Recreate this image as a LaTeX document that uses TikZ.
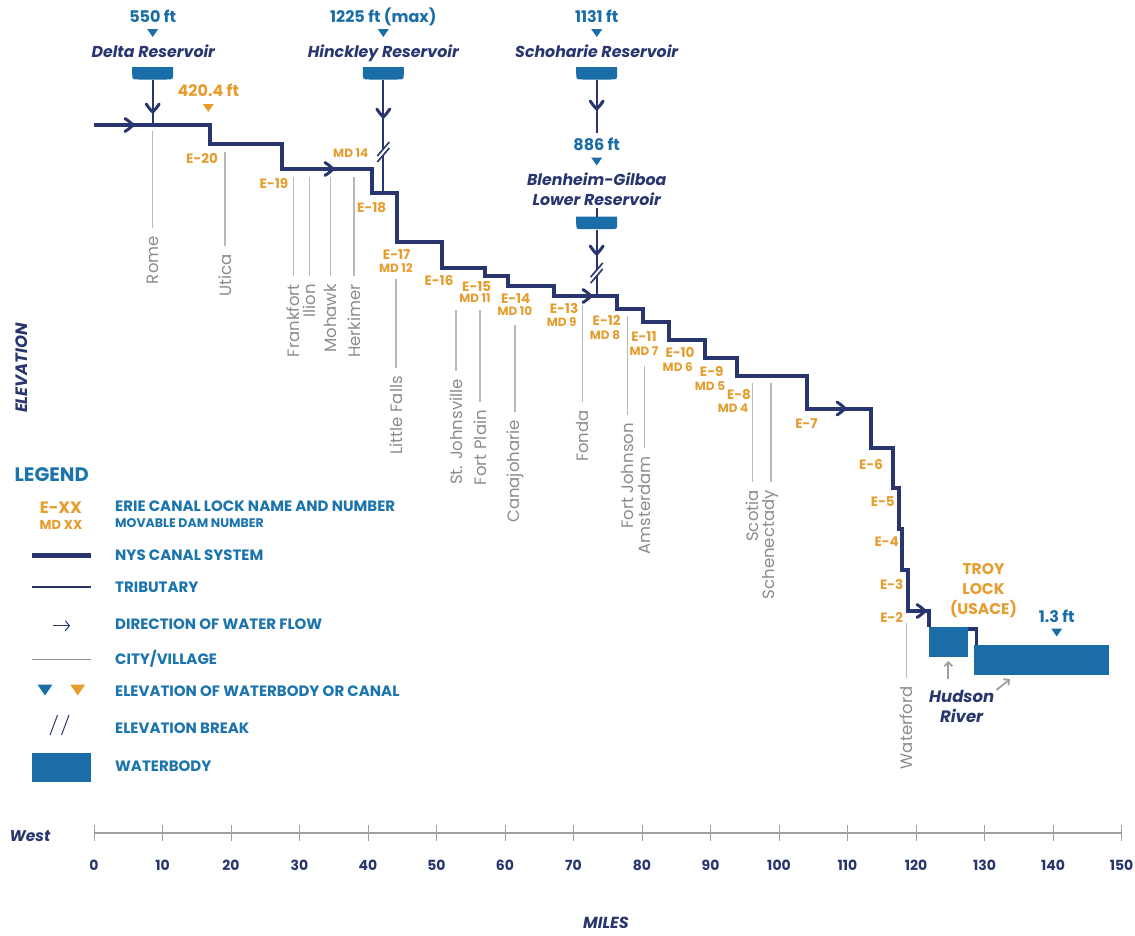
\documentclass[tikz,border=0pt]{standalone}
\usepackage{fontspec}
\setmainfont{Poppins}
\usetikzlibrary{arrows.meta}
\definecolor{navy}{HTML}{28356E}
\definecolor{wblue}{HTML}{1A6DA6}
\definecolor{lblue}{HTML}{1B74AE}
\definecolor{orng}{HTML}{E69D2E}
\definecolor{cgray}{HTML}{8C8C8C}
\definecolor{lgray}{HTML}{B8B8B8}
\definecolor{agray}{HTML}{A0A0A0}
\tikzset{
  reservoir/.pic={\fill[wblue] (-20.5,0) -- (20.5,0) -- (20.5,6) .. controls (20.5,12.5) .. (14,12.5) -- (-14,12.5) .. controls (-20.5,12.5) .. (-20.5,6) -- cycle;},
  tridown/.pic={\fill[pic actions] (-5.5,-4) -- (5.5,-4) -- (0,4) -- cycle;},
  bigtri/.pic={\fill[pic actions] (-7.5,-5.5) -- (7.5,-5.5) -- (0,5.5) -- cycle;},
  brk/.pic={\fill[white] (-6,4) -- (6,-10) -- (6,-4) -- (-6,10) -- cycle;
            \draw[navy,line width=1.6pt] (-6,4) -- (6,-10) (-6,10) -- (6,-4);},
  chev/.pic={\draw[navy,line width=3pt,line cap=round,line join=round]
      (-8,-6.5) .. controls (-3,-3) .. (0,0) .. controls (-3,3) .. (-8,6.5);},
}
\begin{document}
\begin{tikzpicture}[x=1pt,y=-1pt,
  canal/.style={draw=navy,line width=4pt,line join=miter},
  trib/.style={draw=navy,line width=2pt},
  cityline/.style={draw=lgray,line width=1.3pt},
  resname/.style={font=\fontsize{15.8}{19}\selectfont\bfseries\itshape,text=navy,inner sep=0,anchor=base,align=center},
  elev/.style={font=\fontsize{16}{18}\selectfont\bfseries,text=wblue,inner sep=0,anchor=base},
  lock/.style={font=\fontsize{13.5}{15}\selectfont\bfseries,text=orng,inner sep=0},
  mdl/.style={font=\fontsize{12}{14}\selectfont\bfseries,text=orng,inner sep=0},
  city/.style={font=\fontsize{16.5}{18}\selectfont,text=cgray,rotate=90,anchor=east,inner sep=0},
  legtext/.style={font=\fontsize{15}{16}\selectfont\bfseries,text=lblue,inner sep=0,anchor=west},
  axlab/.style={font=\fontsize{14}{16}\selectfont\bfseries,text=navy,inner sep=0},
  ttl/.style={font=\fontsize{15.5}{17}\selectfont\bfseries\itshape,text=navy,inner sep=0},
]
\useasboundingbox[fill=white] (0,0) rectangle (1135,935);

% ---------- reservoirs ----------
\node[elev] (e550) at (152.7,22.7) {550 ft};
\pic[fill=wblue] at (152.7,33) {tridown};
\node[resname] (delta) at (153.3,57.3) {Delta Reservoir};
\pic at (152.7,67) {reservoir};

\node[elev] (e1225) at (383.3,22.7) {1225 ft (max)};
\pic[fill=wblue] at (383.3,33) {tridown};
\node[resname] (hinck) at (383.3,57.3) {Hinckley Reservoir};
\pic at (383.3,67) {reservoir};

\node[elev] (e1131) at (596.7,22.7) {1131 ft};
\pic[fill=wblue] at (596.7,33) {tridown};
\node[resname] (schoh) at (596.7,57.3) {Schoharie Reservoir};
\pic at (596.7,67) {reservoir};

\node[elev] (e886) at (596.7,150.7) {886 ft};
\pic[fill=wblue] at (596.7,161.5) {tridown};
\node[resname] (blen) at (596.7,185) {Blenheim-Gilboa};
\node[resname] (blen2) at (596.7,205.7) {Lower Reservoir};
\pic at (596.7,216.7) {reservoir};

\node[elev,text=orng] (e420) at (208.3,96.7) {420.4 ft};
\pic[fill=orng] at (208.3,108) {tridown};

% ---------- tributaries ----------
\draw[trib] (152.7,79.5) -- (152.7,125);
\pic[rotate=-90] at (152.7,112) {chev};
\draw[trib] (383.3,79.5) -- (383.3,192.5);
\pic[rotate=-90] at (383.3,117) {chev};
\pic at (383.3,152) {brk};
\draw[trib] (596.7,79.5) -- (596.7,133);
\pic[rotate=-90] at (596.7,109) {chev};
\draw[trib] (596.7,208) -- (596.7,217);
\draw[trib] (596.7,229.5) -- (596.7,296);
\pic[rotate=-90] at (596.7,254) {chev};
\pic at (596.7,273) {brk};

% ---------- city lines and labels ----------
\foreach \x/\ya/\yb/\nm/\lab in {
  152.7/130.5/228/rome/Rome,
  225/152/246/utica/Utica,
  293.3/177/276/frank/Frankfort,
  309.3/177/276/ilion/Ilion,
  330.7/177/276/mohawk/Mohawk,
  354/177/276/herk/Herkimer,
  396/279/368/lfalls/Little Falls,
  456/310/371/stj/St. Johnsville,
  480/310/402/fplain/Fort Plain,
  515/325/412/cana/Canajoharie,
  582.7/305/402/fonda/Fonda,
  627.3/316/415/fjohn/Fort Johnson,
  644.3/366/448/amst/Amsterdam,
  752.3/383/482/scotia/Scotia,
  771/383/482/schen/Schenectady,
  906.7/623/678/waterf/Waterford}{
  \draw[cityline] (\x,\ya) -- (\x,\yb);
  \node[city] (\nm) at (\x,\yb+8) {\lab};
}

% ---------- canal ----------
\draw[canal] (94,125) -- (210,125) |- (281.5,143.5) |- (371.5,169) |- (396.5,192.5)
  |- (442,242) |- (485,267.5) |- (508,276) |- (553.5,285.5) |- (616.5,296)
  |- (642.5,309) |- (668.5,322) |- (705,340) |- (737,358) |- (806.5,375.5)
  |- (871,408.5) |- (892.5,447.5) |- (898.5,487.5) |- (902,528.5) |- (907.5,569.5)
  |- (929,611) -- (929,627);
\draw[canal,line width=3.4pt] (967.5,629) -| (976.5,645);
\foreach \x/\y in {133/125, 333/169, 591/296, 845/408.5, 925/611}
  \pic at (\x,\y) {chev};

% ---------- waterbodies ----------
\fill[wblue] (929,627) rectangle (967.5,657);
\fill[wblue] (973.5,645) rectangle (1108.5,674.5);
\node[elev] (e13) at (1056.7,622) {1.3 ft};
\pic[fill=wblue] at (1056.7,632.5) {tridown};
\node[font=\fontsize{15.5}{20}\selectfont\bfseries,text=orng,align=center,inner sep=0] (troy) at (983.5,591) {TROY\\LOCK\\(USACE)};
\node[resname,anchor=center,font=\fontsize{16.5}{20}\selectfont\bfseries\itshape] (hud) at (961.7,706) {Hudson\\River};
\draw[agray,line width=1.8pt,-{Straight Barb[length=4pt,width=8pt,line width=1.8pt]}] (948.3,679) -- (948.3,661);
\draw[agray,line width=1.8pt,-{Straight Barb[length=4pt,width=8pt,line width=1.8pt]}] (996.5,690) -- (1010,679);

% ---------- lock labels ----------
\foreach \x/\y/\nm/\lab in {
  202/158/l20/E-20, 274/183/l19/E-19, 371.7/207.7/l18/E-18, 396.7/255/l17/E-17,
  439/280.7/l16/E-16, 476.7/286.7/l15/E-15, 515.7/298.3/l14/E-14, 564/308.5/l13/E-13,
  606.7/320/l12/E-12, 644/336.7/l11/E-11, 680/352.7/l10/E-10, 711.7/371/l9/E-9,
  739/394.5/l8/E-8, 806.5/424/l7/E-7, 871/464/l6/E-6, 882.7/501.7/l5/E-5,
  886.7/541.7/l4/E-4, 891.7/584/l3/E-3, 891.7/617.3/l2/E-2}{
  \node[lock] (\nm) at (\x,\y) {\lab};
}
\foreach \x/\y/\nm/\lab in {
  350.7/152.7/m14/MD 14, 396/268.3/m12/MD 12, 475/298.3/m11/MD 11, 515/310.7/m10/MD 10,
  561.7/321.7/m9/MD 9, 605/335/m8/MD 8, 644/351/m7/MD 7, 677.7/366.7/m6/MD 6,
  710/386/m5/MD 5, 733/407.7/m4/MD 4}{
  \node[mdl] (\nm) at (\x,\y) {\lab};
}

% ---------- elevation label ----------
\node[ttl,rotate=90,font=\fontsize{16.5}{18}\selectfont\bfseries\itshape] (elevation) at (22,368) {ELEVATION};

% ---------- legend ----------
\node[font=\fontsize{19.5}{22}\selectfont\bfseries,text=lblue,inner sep=0] (legend) at (51.7,475) {LEGEND};
\node[font=\fontsize{16.5}{18}\selectfont\bfseries,text=orng,inner sep=0] (lgexx) at (61,507.7) {E-XX};
\node[font=\fontsize{13}{14}\selectfont\bfseries,text=orng,inner sep=0] (lgmd) at (61,525) {MD XX};
\node[legtext] (lt1) at (115,506.7) {ERIE CANAL LOCK NAME AND NUMBER};
\node[legtext,font=\fontsize{12.5}{14}\selectfont\bfseries] (lt1b) at (115,523.3) {MOVABLE DAM NUMBER};
\draw[navy,line width=5pt] (32.3,555.3) -- (91,555.3);
\node[legtext] (lt2) at (115,555.3) {NYS CANAL SYSTEM};
\draw[navy,line width=1.8pt] (32.3,587.3) -- (91,587.3);
\node[legtext] (lt3) at (115,587.3) {TRIBUTARY};
\draw[navy,line width=1pt,-{Straight Barb[length=4pt,width=10pt,line width=1pt]}] (53,625.7) -- (70,625.7);
\node[legtext] (lt4) at (115,624.5) {DIRECTION OF WATER FLOW};
\draw[cgray,line width=1pt] (32.3,659.3) -- (91,659.3);
\node[legtext] (lt5) at (115,658.5) {CITY/VILLAGE};
\pic[fill=wblue] at (45,690) {bigtri};
\pic[fill=orng] at (77.7,690) {bigtri};
\node[legtext] (lt6) at (115,691.5) {ELEVATION OF WATERBODY OR CANAL};
\draw[navy,line width=1pt] (50,735) -- (57.5,715) (61.5,735) -- (69,715);
\node[legtext] (lt7) at (115,728.3) {ELEVATION BREAK};
\fill[wblue] (32.3,753.3) rectangle (91,782.3);
\node[legtext] (lt8) at (115,766) {WATERBODY};

% ---------- axis ----------
\coordinate (ax0) at (94,833);
\coordinate (ax150) at (1121.5,833);
\draw[agray,line width=2.2pt] (ax0) -- (ax150);
\foreach \i in {0,...,15}{
  \pgfmathsetmacro\xx{94+68.5*\i}
  \pgfmathtruncatemacro\lab{10*\i}
  \draw[agray,line width=0.9pt] (\xx,825) -- (\xx,841);
  \node[axlab] (t\i) at (\xx,865) {\lab};
}
\node[ttl] (west) at (30,836) {West};
\node[ttl,font=\fontsize{16}{18}\selectfont\bfseries\itshape] (miles) at (606,923) {MILES};
\end{tikzpicture}
\end{document}
